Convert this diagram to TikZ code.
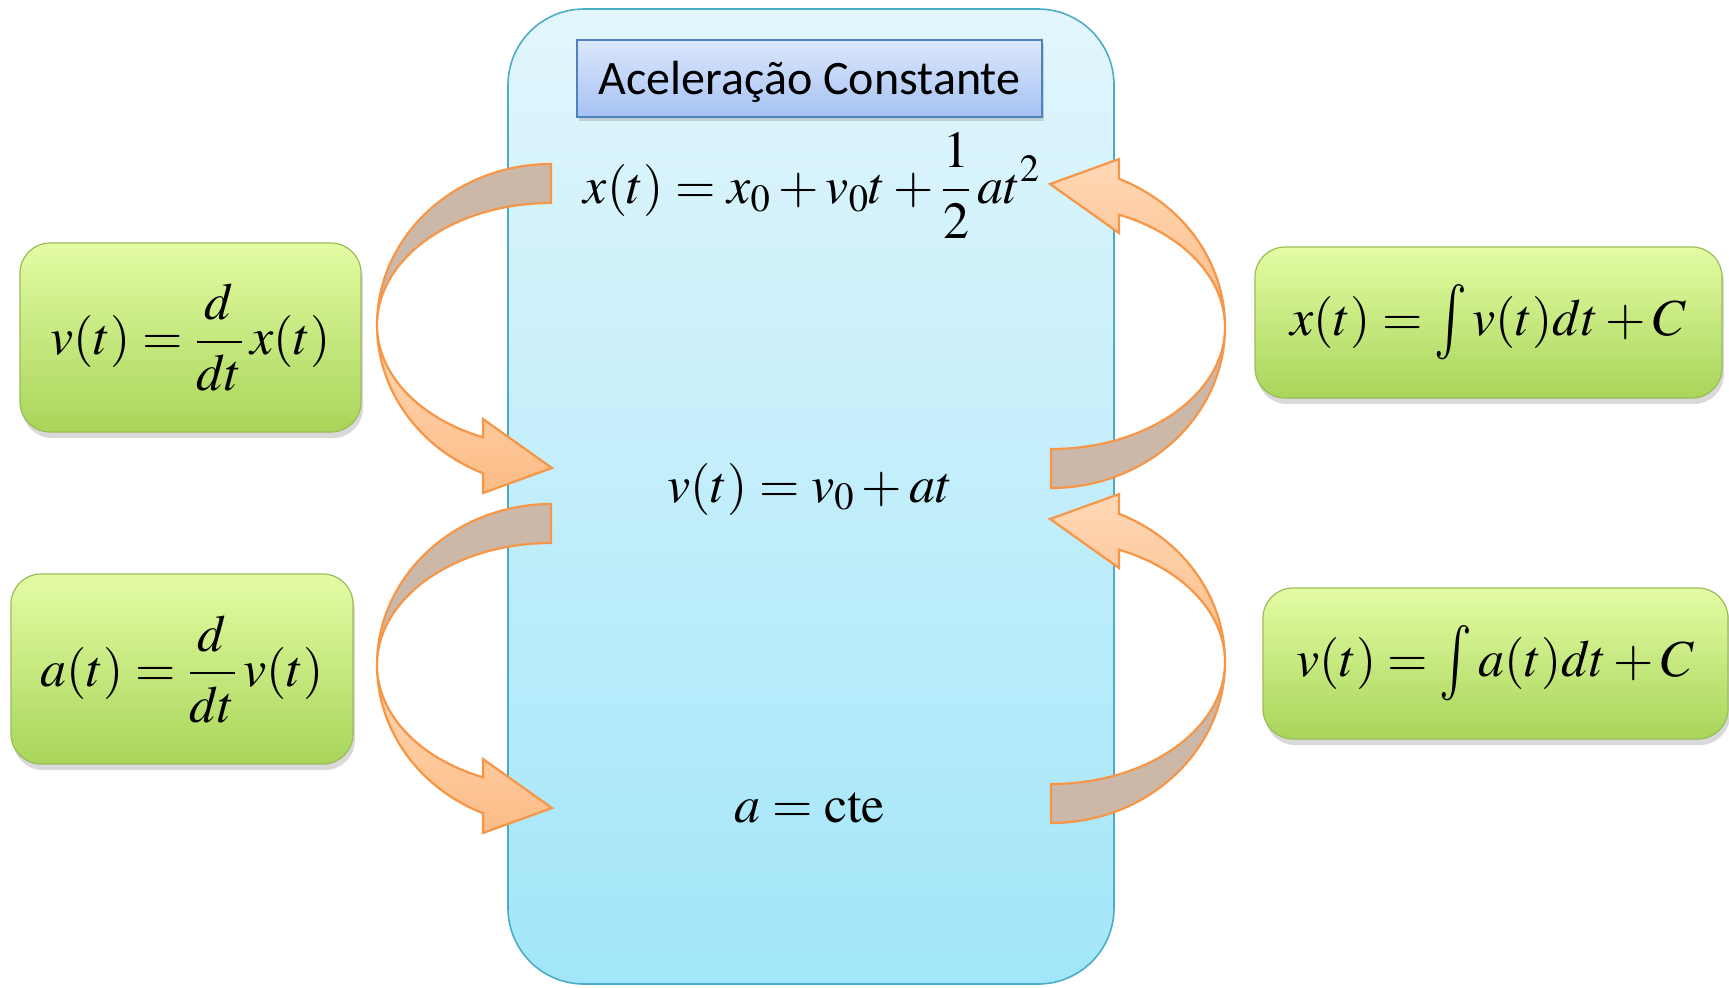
\documentclass[tikz,border=0pt]{standalone}
\usepackage{mathptmx}
\usepackage{graphicx}
\usepackage[no-math]{fontspec}
\newfontfamily\titlefont{Carlito}
\usetikzlibrary{positioning,shadows}
\definecolor{cBlueTop}{HTML}{E2F6FC}
\definecolor{cBlueBot}{HTML}{A2E6F9}
\definecolor{cBlueEdge}{HTML}{4BACC6}
\definecolor{cTitleTop}{HTML}{DCE7FB}
\definecolor{cTitleBot}{HTML}{A5C2F4}
\definecolor{cTitleEdge}{HTML}{4F81BD}
\definecolor{cGreenTop}{HTML}{E4FCA4}
\definecolor{cGreenBot}{HTML}{A8D55A}
\definecolor{cGreenEdge}{HTML}{9BBB59}
\definecolor{cArrBack}{HTML}{CCB8A8}
\definecolor{cArrTop}{HTML}{FFD8B6}
\definecolor{cArrBot}{HTML}{FCBC86}
\definecolor{cArrEdge}{HTML}{F79646}
\newcommand{\tallint}{\mathop{\raisebox{-0.12em}{\scalebox{1.05}[1.45]{$\textstyle\int$}}}\nolimits}

\tikzset{
  bluebox/.style={rounded corners=38pt, top color=cBlueTop, bottom color=cBlueBot,
    draw=cBlueEdge, line width=0.8pt, minimum width=303pt, minimum height=487.5pt},
  titlebox/.style={top color=cTitleTop, bottom color=cTitleBot, draw=cTitleEdge,
    line width=0.8pt, minimum width=232.5pt, minimum height=38.5pt,
    text height=20pt, text depth=3.6pt,
    font=\titlefont\fontsize{24}{28}\selectfont,
    drop shadow={shadow xshift=1pt, shadow yshift=-2pt, opacity=0.3}},
  greenbox/.style={rounded corners=15pt, top color=cGreenTop, bottom color=cGreenBot,
    draw=cGreenEdge, line width=0.6pt,
    drop shadow={shadow xshift=1pt, shadow yshift=-3pt, opacity=0.3}},
  pics/bendarrow/.style={code={
    \draw[fill=cArrBack, draw=cArrEdge, line width=1.1pt]
      (0,-161) .. controls (-96.1,-161) and (-174,-88.9) .. (-174,0)
      .. controls (-174,-67.4) and (-96.1,-122) .. (0,-122) -- cycle;
    \draw[top color=cArrTop, bottom color=cArrBot, draw=cArrEdge, line width=1.1pt]
      (-174,0) .. controls (-174,64.6) and (-132.3,123) .. (-68,148.2)
      -- (-68,168) -- (1,143) -- (-68,94) -- (-68,112.3)
      .. controls (-132.3,93.2) and (-174,49) .. (-174,0) -- cycle;
  }}
}

\begin{document}
\begin{tikzpicture}[x=0.5pt, y=-0.5pt, font=\fontsize{26}{30}\selectfont]
\useasboundingbox (0,0) rectangle (1729,987);
% central block
\node[bluebox] (main) at (811,496.5) {};
\node[titlebox] (title) at (809.5,78.5) {Aceleração Constante};
\node (xeq) at (812,186) {$x(t) = x_0 + v_0t + \displaystyle\frac{1}{2}\,at^2$};
\node (veq) at (810,489) {$v(t) = v_0 + at$};
\node (aeq) at (810,808) {$a = \mathrm{cte}$};
% derivatives
\node[greenbox, minimum width=170.5pt, minimum height=94.5pt] (dv) at (190.5,337.5)
  {$v(t) = \displaystyle\frac{\,d\,}{dt}\,x(t)$};
\node[greenbox, minimum width=171pt, minimum height=95pt] (da) at (182,669)
  {$a(t) = \displaystyle\frac{\,d\,}{dt}\,v(t)$};
% integrals
\node[greenbox, minimum width=233.5pt, minimum height=75.5pt] (ix) at (1488.5,322.5)
  {$x(t) = \tallint v(t)dt + C$};
\node[greenbox, minimum width=232.5pt, minimum height=75.5pt] (iv) at (1495.5,663.5)
  {$v(t) = \tallint a(t)dt + C$};
% bent arrows
\coordinate (lx) at (551,325);
\coordinate (lv) at (551,665);
\coordinate (rx) at (1051,327);
\coordinate (rv) at (1051,662);
\pic at (lx) {bendarrow};
\pic at (lv) {bendarrow};
\pic[rotate=180] at (rx) {bendarrow};
\pic[rotate=180] at (rv) {bendarrow};
\end{tikzpicture}
\end{document}
